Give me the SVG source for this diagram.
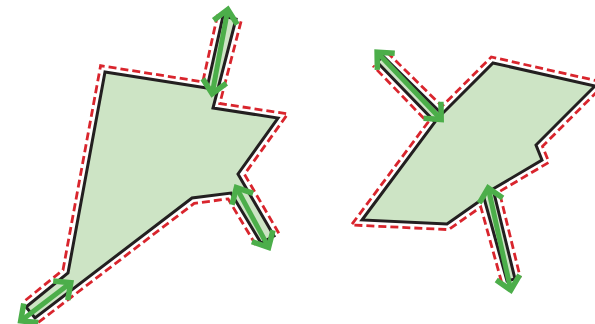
<svg xmlns="http://www.w3.org/2000/svg" width="595" height="324" viewBox="0 0 595 324">
<style>
.shape{fill:#cde4c5;stroke:#231f20;stroke-width:3;stroke-linejoin:miter}
.halo{fill:none;stroke:#d9252d;stroke-width:2.8;stroke-dasharray:8 4}
.arrow{fill:none;stroke:#4cae4a;stroke-width:5;marker-start:url(#ah);marker-end:url(#ah)}
</style>
<defs>
<marker id="ah" markerUnits="userSpaceOnUse" orient="auto-start-reverse" refX="0" refY="0" markerWidth="1" markerHeight="1" overflow="visible">
<path d="M-13,-12 L0,0 L-13,12" fill="none" stroke="#4cae4a" stroke-width="5.5"/>
</marker>
</defs>
<rect width="595" height="324" fill="#ffffff"/>
<g id="shape-left">
<path class="shape" d="M105,72 L207,88 L223,16 L236,19 L213,108 L278,118 L238,174 L274,236 L261,243 L231,193 L192,198 L35,318 L26,307 L68,273 Z"/>
<path class="halo" d="M217.6,14.8 L202.8,81.8 L100.6,65.7 L63,270 L22.5,302.7 M38.3,322.4 L194.2,203.3 L228.1,198.9 L256.3,245.8 M278.8,233.2 L244.5,174.3 L287.7,113.9 L219.8,103.5 L241.3,20.4"/>
</g>
<g id="shape-right">
<path class="shape" d="M493,63 L595,86 L536,145 L542,160 L493,189 L515,279 L507,281 L484,198 L447,224 L362,220 L435,122 L377,62 L383,56 L442,114 Z"/>
<path class="halo" d="M386.9,52.1 L442,106.3 L491.3,57 L605.9,82.8 L542.5,146.3 L548.9,162.3 L499.3,191.7 L520.3,277.7 M501.7,282.5 L480.8,207 L448.6,229.6 L351.4,225 L427.8,122.5 L373,65.8"/>
</g>
<g id="connectors">
<path class="arrow" d="M227.8,9.6 L212.2,93.8"/>
<path class="arrow" d="M236.4,187.6 L268.6,247.4"/>
<path class="arrow" d="M20.7,320.9 L70.8,282.7"/>
<path class="arrow" d="M377.1,52.2 L441.2,119.5"/>
<path class="arrow" d="M488.2,187.9 L510.8,290.1"/>
</g>
</svg>
